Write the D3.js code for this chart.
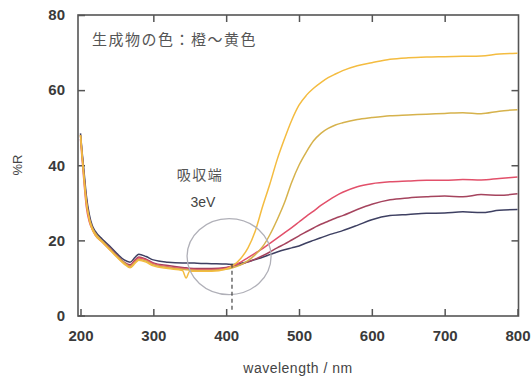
<!DOCTYPE html>
<html>
<head>
<meta charset="utf-8">
<script src="https://cdn.jsdelivr.net/npm/d3@7"></script>
<style>
  body { margin: 0; background: #fff; }
  .tick text { font-family: "Liberation Sans", Arial, sans-serif; font-weight: bold; font-size: 15px; fill: #3a3a3a; }
  .frame { fill: none; stroke: #555; stroke-width: 1.6; }
</style>
</head>
<body>
<svg class="chart" width="531" height="378"></svg>
<script>
// wavelength grid (nm)
var wavelengths = [200,202,205,208,212,216,220,230,240,250,260,268,275,280,290,300,320,340,345,350,360,380,400,410,420,430,440,450,460,470,480,490,500,510,520,530,540,550,560,580,600,625,650,675,700,725,750,775,800];

// %R for each sample
var yellowR = [48,43,36,30,25.5,23,21.5,19.5,17.5,15.5,13.7,12.7,13.9,14.7,14.2,13.2,12.5,12.0,10.0,11.8,11.8,11.8,12.4,13.4,15.2,18.0,22.5,29,35,41.5,47,52,56,58.6,60.5,62,63.3,64.3,65.2,66.5,67.3,68.2,68.6,68.8,68.9,69.0,69.1,69.6,69.8];
var goldR = [48,43,36.5,30.5,26,23.5,22,19.8,17.8,15.8,14.0,13.0,14.2,15.0,14.5,13.5,12.8,12.3,12.2,12.1,12.0,12.0,12.3,12.8,13.5,14.6,16.2,18.3,21.5,25.5,30,35.5,40,43.5,46.5,48.5,49.8,50.7,51.3,52.2,52.7,53.2,53.4,53.6,53.8,54.0,53.7,54.4,54.8];
var redR = [47,42,35,29,25,23,21.5,19.5,17.6,15.7,13.9,13.2,14.5,15.3,14.8,13.8,13.0,12.5,12.4,12.3,12.2,12.2,12.6,13.3,14.2,15.4,16.6,17.8,19.2,20.6,22.0,23.4,24.9,26.4,27.8,29.3,30.6,31.8,32.8,34.3,35.1,35.6,35.8,36.0,36.0,36.2,36.1,36.5,36.9];
var maroonR = [48,43.5,37,31,26,23.5,22,19.8,18,16,14.2,13.5,14.8,15.6,15.0,14.0,13.3,12.8,12.7,12.6,12.5,12.5,12.8,13.2,13.6,14.3,15.0,15.9,16.9,18.0,19.0,20.1,21.2,22.3,23.3,24.3,25.1,25.9,26.6,28.2,29.6,30.8,31.3,31.6,31.8,31.6,32.2,32.0,32.4];
var navyR = [48.5,44,38,32,27,24,22.5,20.3,18.5,16.5,14.8,14.2,15.5,16.3,15.7,14.8,14.2,14.0,14.0,14.0,13.9,13.8,13.7,13.6,13.9,14.3,14.9,15.5,16.2,16.9,17.5,18.0,18.5,19.3,20.0,20.7,21.4,22.0,22.6,24.0,25.5,26.6,26.9,27.2,27.3,27.6,27.4,28.0,28.2];

var seriesNames = ["navy", "maroon", "red", "gold", "yellow"];
var seriesValues = [navyR, maroonR, redR, goldR, yellowR];
var seriesColors = ["#3e4062", "#a5445e", "#e2506a", "#d6b24c", "#f4bc40"];

var xTicks = [200,300,400,500,600,700,800];
var yTicks = [0,20,40,60,80];

// annotations
var edgeWavelength = 408, edgeTopR = 13.8;
var circleCenter = {wl: 404, r: 15.7};
var noteColour = "生成物の色：橙～黄色";
var noteEdge = "吸収端";
var noteEnergy = "3eV";

var svg = d3.select(".chart");

var x = d3.scaleLinear().domain([200, 800]).range([80.5, 517.5]);
var y = d3.scaleLinear().domain([0, 80]).range([315.5, 15]);

var box = {left: 78, right: 518.5, top: 15, bottom: 316};

// frame
svg.append("rect")
	.attr("class", "frame")
	.attr("x", box.left).attr("y", box.top)
	.attr("width", box.right - box.left).attr("height", box.bottom - box.top);

// bottom axis, inward ticks
var xAxis = svg.append("g")
	.attr("transform", "translate(0," + box.bottom + ")")
	.call(d3.axisBottom(x).tickValues(xTicks).tickSize(-7).tickPadding(14));
xAxis.select(".domain").remove();
xAxis.selectAll("line").attr("stroke", "#555").attr("stroke-width", 1.5);

// top axis ticks
var xTop = svg.append("g")
	.attr("transform", "translate(0," + box.top + ")")
	.call(d3.axisTop(x).tickValues(xTicks.slice(1, -1)).tickSize(-7).tickFormat(""));
xTop.select(".domain").remove();
xTop.selectAll("line").attr("stroke", "#555").attr("stroke-width", 1.5);

// left axis
var yAxis = svg.append("g")
	.attr("transform", "translate(" + box.left + ",0)")
	.call(d3.axisLeft(y).tickValues(yTicks).tickSize(-7).tickPadding(13));
yAxis.select(".domain").remove();
yAxis.selectAll("line").attr("stroke", "#555").attr("stroke-width", 1.5);

// right axis ticks
var yRight = svg.append("g")
	.attr("transform", "translate(" + box.right + ",0)")
	.call(d3.axisRight(y).tickValues(yTicks.slice(1, -1)).tickSize(-7).tickFormat(""));
yRight.select(".domain").remove();
yRight.selectAll("line").attr("stroke", "#555").attr("stroke-width", 1.5);

// axis titles
svg.append("text")
	.attr("transform", "translate(22,165) rotate(-90)")
	.attr("text-anchor", "middle")
	.style("font-family", "'Liberation Sans', Arial, sans-serif")
	.style("font-size", "13px")
	.style("fill", "#444")
	.text("%R");

svg.append("text")
	.attr("x", 298).attr("y", 373)
	.attr("text-anchor", "middle")
	.style("font-family", "'Liberation Sans', Arial, sans-serif")
	.style("font-size", "14px")
	.style("fill", "#444")
	.style("letter-spacing", "0.5px")
	.text("wavelength / nm");

// spectra
var line = d3.line()
	.x(function(d) { return x(d[0]); })
	.y(function(d) { return y(d[1]); })
	.curve(d3.curveMonotoneX);

seriesValues.forEach(function(vals, i) {
	var pts = wavelengths.map(function(w, j) { return [w, vals[j]]; });
	svg.append("path")
		.datum(pts)
		.attr("class", "spectrum " + seriesNames[i])
		.attr("fill", "none")
		.attr("stroke", seriesColors[i])
		.attr("stroke-width", 1.5)
		.attr("d", line);
});

// absorption-edge circle
svg.append("ellipse")
	.attr("cx", x(circleCenter.wl))
	.attr("cy", y(circleCenter.r))
	.attr("rx", 42).attr("ry", 38)
	.attr("fill", "none")
	.attr("stroke", "#b0b0b8")
	.attr("stroke-width", 1.3);

// dashed drop line
svg.append("line")
	.attr("x1", x(edgeWavelength)).attr("x2", x(edgeWavelength))
	.attr("y1", y(edgeTopR)).attr("y2", y(1.5))
	.attr("stroke", "#444")
	.attr("stroke-width", 1.2)
	.attr("stroke-dasharray", "4,3");

// text notes
var noteFont = "'Noto Sans CJK JP', sans-serif";
svg.append("text")
	.attr("x", 92).attr("y", 45)
	.style("font-family", noteFont)
	.style("font-size", "15px")
	.style("letter-spacing", "1.5px")
	.style("fill", "#555")
	.text(noteColour);

svg.append("text")
	.attr("x", 200).attr("y", 180)
	.attr("text-anchor", "middle")
	.style("font-family", noteFont)
	.style("font-size", "14px")
	.style("letter-spacing", "1.5px")
	.style("fill", "#555")
	.text(noteEdge);

svg.append("text")
	.attr("x", 203).attr("y", 207)
	.attr("text-anchor", "middle")
	.style("font-family", "'Liberation Sans', Arial, sans-serif")
	.style("font-size", "14px")
	.style("fill", "#444")
	.text(noteEnergy);
</script>
</body>
</html>
